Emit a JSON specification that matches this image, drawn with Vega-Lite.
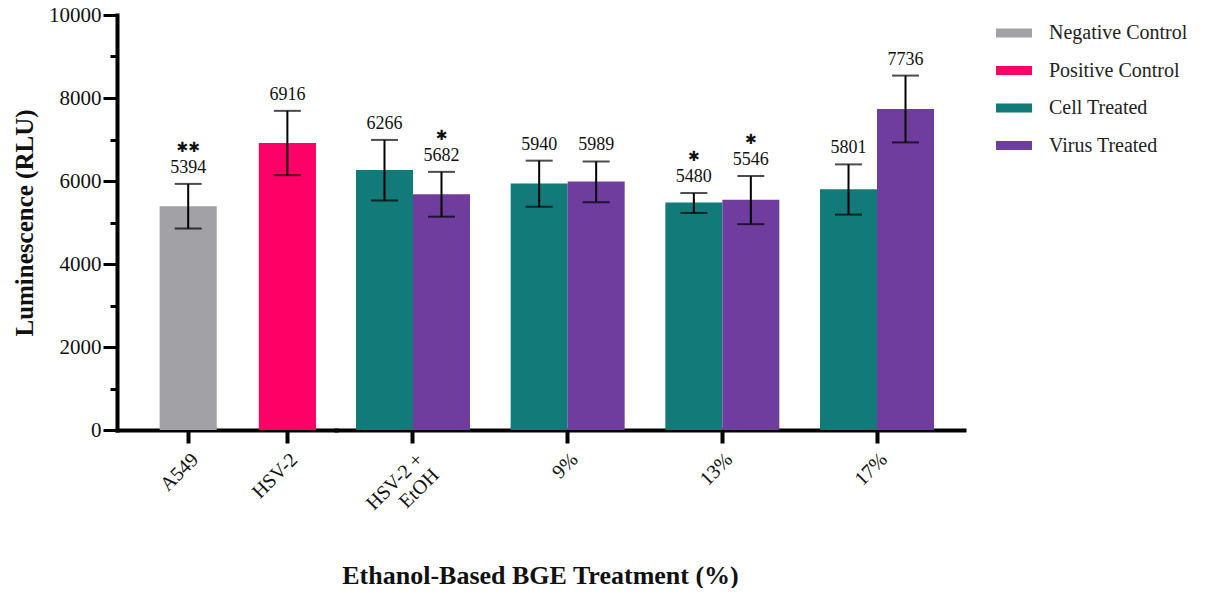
{
  "$schema": "https://vega.github.io/schema/vega-lite/v6.json",
  "padding": {"left": 12, "top": 4, "right": 0, "bottom": 0},
  "background": "white",
  "datasets": {
    "d": [
      {"group": "A549", "series": "Negative Control", "value": 5394, "lo": 4855, "hi": 5930, "sig": "✱✱"},
      {"group": "HSV-2", "series": "Positive Control", "value": 6916, "lo": 6140, "hi": 7690, "sig": ""},
      {"group": "HSV-2 + EtOH", "series": "Cell Treated", "value": 6266, "lo": 5530, "hi": 6990, "sig": ""},
      {"group": "HSV-2 + EtOH", "series": "Virus Treated", "value": 5682, "lo": 5140, "hi": 6220, "sig": "✱"},
      {"group": "9%", "series": "Cell Treated", "value": 5940, "lo": 5380, "hi": 6490, "sig": ""},
      {"group": "9%", "series": "Virus Treated", "value": 5989, "lo": 5490, "hi": 6470, "sig": ""},
      {"group": "13%", "series": "Cell Treated", "value": 5480, "lo": 5230, "hi": 5710, "sig": "✱"},
      {"group": "13%", "series": "Virus Treated", "value": 5546, "lo": 4960, "hi": 6120, "sig": "✱"},
      {"group": "17%", "series": "Cell Treated", "value": 5801, "lo": 5190, "hi": 6400, "sig": ""},
      {"group": "17%", "series": "Virus Treated", "value": 7736, "lo": 6930, "hi": 8540, "sig": ""}
    ]
  },
  "config": {
    "font": "Liberation Serif",
    "view": {"stroke": null},
    "text": {"font": "Liberation Serif"},
    "axis": {
      "domainColor": "black", "domainWidth": 4, "domainCap": "square",
      "tickColor": "black", "grid": false,
      "labelFont": "Liberation Serif", "labelColor": "#111",
      "titleFont": "Liberation Serif", "titleFontWeight": "bold", "titleColor": "#111"
    },
    "legend": {
      "labelFont": "Liberation Serif", "labelFontSize": 20, "labelColor": "#222"
    }
  },
  "spacing": 0,
  "hconcat": [
    {
      "width": 219,
      "height": 415,
      "data": {"name": "d"},
      "transform": [{"filter": {"field": "group", "oneOf": ["A549", "HSV-2"]}}],
      "encoding": {
        "x": {
          "field": "group", "type": "nominal",
          "scale": {"domain": ["A549", "HSV-2"], "paddingInner": 0.424, "paddingOuter": 0.316, "align": 0.68},
          "axis": {"title": null, "labelAngle": -45, "labelFontSize": 20, "tickSize": 13, "tickWidth": 4, "labelPadding": 6}
        }
      },
      "layer": [
        {
          "mark": {"type": "bar"},
          "encoding": {
            "y": {
              "field": "value", "type": "quantitative",
              "scale": {"domain": [0, 10000], "nice": false},
              "axis": {
                "title": "Luminescence (RLU)", "titleFontSize": 25, "titlePadding": 11,
                "values": [0, 1000, 2000, 3000, 4000, 5000, 6000, 7000, 8000, 9000, 10000],
                "format": "d",
                "labelExpr": "datum.value % 2000 == 0 ? datum.label : ''",
                "labelFontSize": 21, "labelPadding": 2,
                "tickWidth": 3,
                "tickSize": {"condition": {"test": "datum.value % 2000 == 0", "value": 14}, "value": 7}
              }
            },
            "color": {
              "field": "series", "type": "nominal",
              "scale": {"domain": ["Negative Control", "Positive Control", "Cell Treated", "Virus Treated"], "range": ["#A2A2A6", "#FF0066", "#127B79", "#6E3D9E"]},
              "legend": {"title": null, "symbolType": "M-1,-0.25H1V0.25H-1Z", "symbolSize": 1296, "symbolStrokeWidth": 0, "rowPadding": 9.5, "labelOffset": 17, "offset": 32, "padding": 0}
            }
          }
        },
        {
          "mark": {"type": "rule", "color": "black", "strokeWidth": 2},
          "encoding": {"y": {"field": "lo", "type": "quantitative"}, "y2": {"field": "hi"}}
        },
        {
          "mark": {"type": "tick", "color": "black", "thickness": 2, "size": 27},
          "encoding": {"y": {"field": "hi", "type": "quantitative"}}
        },
        {
          "mark": {"type": "tick", "color": "black", "thickness": 2, "size": 27},
          "encoding": {"y": {"field": "lo", "type": "quantitative"}}
        },
        {
          "mark": {"type": "text", "font": "Liberation Serif", "fontSize": 18, "baseline": "bottom", "dy": -7, "color": "#111"},
          "encoding": {"y": {"field": "hi", "type": "quantitative"}, "text": {"field": "value", "type": "quantitative", "format": "d"}}
        },
        {
          "mark": {"type": "text", "font": "DejaVu Sans", "fontSize": 14, "baseline": "middle", "dy": -36, "color": "#111"},
          "encoding": {"y": {"field": "hi", "type": "quantitative"}, "text": {"field": "sig"}}
        }
      ]
    },
    {
      "width": 628,
      "height": 415,
      "data": {"name": "d"},
      "transform": [{"filter": {"field": "group", "oneOf": ["HSV-2 + EtOH", "9%", "13%", "17%"]}}],
      "encoding": {
        "x": {
          "field": "group", "type": "nominal",
          "scale": {"domain": ["HSV-2 + EtOH", "9%", "13%", "17%"], "paddingInner": 0.263, "paddingOuter": 0.1616, "align": 0.4},
          "axis": {
            "title": "Ethanol-Based BGE Treatment (%)", "titleFontSize": 26, "titleX": 204, "titleY": 145, "titleBaseline": "middle", "titleAlign": "center",
            "labelAngle": -45, "labelFontSize": 20, "tickSize": 13, "tickWidth": 4, "labelPadding": 6,
            "labelExpr": "datum.value == 'HSV-2 + EtOH' ? ['HSV-2 +', 'EtOH'] : datum.label"
          }
        },
        "xOffset": {"field": "series", "type": "nominal", "scale": {"domain": ["Cell Treated", "Virus Treated"], "paddingInner": 0}}
      },
      "layer": [
        {
          "mark": {"type": "bar"},
          "encoding": {
            "y": {"field": "value", "type": "quantitative", "scale": {"domain": [0, 10000], "nice": false}, "axis": null},
            "color": {
              "field": "series", "type": "nominal",
              "scale": {"domain": ["Negative Control", "Positive Control", "Cell Treated", "Virus Treated"], "range": ["#A2A2A6", "#FF0066", "#127B79", "#6E3D9E"]},
              "legend": {"title": null, "symbolType": "M-1,-0.25H1V0.25H-1Z", "symbolSize": 1296, "symbolStrokeWidth": 0, "rowPadding": 9.5, "labelOffset": 17, "offset": 32, "padding": 0}
            }
          }
        },
        {
          "mark": {"type": "rule", "color": "black", "strokeWidth": 2},
          "encoding": {"y": {"field": "lo", "type": "quantitative"}, "y2": {"field": "hi"}}
        },
        {
          "mark": {"type": "tick", "color": "black", "thickness": 2, "size": 27},
          "encoding": {"y": {"field": "hi", "type": "quantitative"}}
        },
        {
          "mark": {"type": "tick", "color": "black", "thickness": 2, "size": 27},
          "encoding": {"y": {"field": "lo", "type": "quantitative"}}
        },
        {
          "mark": {"type": "text", "font": "Liberation Serif", "fontSize": 18, "baseline": "bottom", "dy": -7, "color": "#111"},
          "encoding": {"y": {"field": "hi", "type": "quantitative"}, "text": {"field": "value", "type": "quantitative", "format": "d"}}
        },
        {
          "mark": {"type": "text", "font": "DejaVu Sans", "fontSize": 14, "baseline": "middle", "dy": -36, "color": "#111"},
          "encoding": {"y": {"field": "hi", "type": "quantitative"}, "text": {"field": "sig"}}
        }
      ]
    }
  ]
}
